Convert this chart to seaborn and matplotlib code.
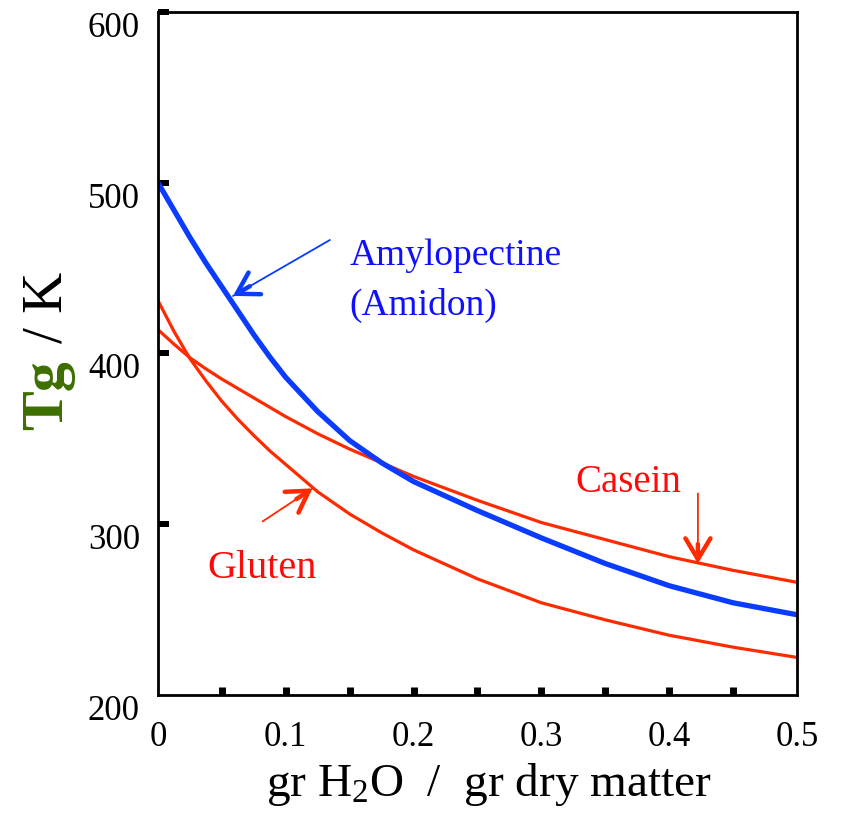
import matplotlib
matplotlib.use("Agg")
import matplotlib.pyplot as plt
import pandas as pd
import seaborn as sns

# ---------- DATA ----------
water = [0, 0.0125, 0.025, 0.0375, 0.05, 0.0625, 0.075, 0.0875, 0.1, 0.125,
         0.15, 0.175, 0.2, 0.25, 0.3, 0.35, 0.4, 0.45, 0.5]
tg_amylopectine = [500, 484, 468, 453, 439, 425, 411, 398, 386, 366,
                   349, 336, 325, 308, 292, 277, 264, 254, 247]
tg_casein = [414, 405.5, 397.5, 391, 385, 379.5, 374, 368.5, 363, 353,
             344, 336, 328, 314, 301, 291, 281, 273, 266]
tg_gluten = [431, 413, 397, 384, 372, 361.5, 352, 343, 335, 319,
             306, 295, 285, 268, 254, 244, 235, 228, 222]

x_major = [0, 0.1, 0.2, 0.3, 0.4, 0.5]
x_minor = [0.05, 0.15, 0.25, 0.35, 0.45]
x_labels = ["0", "0.1", "0.2", "0.3", "0.4", "0.5"]
y_major = [200, 300, 400, 500, 600]
y_labels = ["200", "300", "400", "500", "600"]

# ---------- STYLE ----------
sns.set_style("white")
plt.rcParams["font.family"] = ["Liberation Serif", "DejaVu Serif"]
plt.rcParams["mathtext.fontset"] = "custom"
plt.rcParams["mathtext.rm"] = "Liberation Serif"
plt.rcParams["mathtext.it"] = "Liberation Serif:italic"
plt.rcParams["text.color"] = "black"
plt.rcParams["axes.labelcolor"] = "black"
plt.rcParams["xtick.color"] = "black"
plt.rcParams["ytick.color"] = "black"

BLUE_LINE = "#0a3cff"
RED_LINE = "#ff2a00"
BLUE_TXT = "#1010ff"
RED_TXT = "#ff0a0a"
GREEN = "#3d6e00"

df = pd.DataFrame({"water": water,
                   "Amylopectine": tg_amylopectine,
                   "Casein": tg_casein,
                   "Gluten": tg_gluten})

fig = plt.figure(figsize=(8.42, 8.16), dpi=100)
ax = fig.add_axes([0.1876, 0.1483, 0.7589, 0.8370])

sns.lineplot(data=df, x="water", y="Casein", color=RED_LINE, lw=2.3, ax=ax)
sns.lineplot(data=df, x="water", y="Gluten", color=RED_LINE, lw=2.3, ax=ax)
sns.lineplot(data=df, x="water", y="Amylopectine", color=BLUE_LINE, lw=3.8, ax=ax)

ax.set_xlim(0, 0.5)
ax.set_ylim(200, 600)
ax.set_xticks(x_major)
ax.set_xticks(x_minor, minor=True)
ax.set_xticklabels(x_labels)
ax.set_yticks(y_major)
ax.set_yticklabels(y_labels)

ax.tick_params(axis="x", which="both", direction="in", length=6, width=5,
               bottom=True, top=False, color="black", labelcolor="black",
               labelsize=25, pad=19)
ax.tick_params(axis="y", which="both", direction="in", length=8, width=4.3,
               left=True, right=False, color="black", labelcolor="black",
               labelsize=25, pad=13)
plt.setp(ax.get_yticklabels(), va="top")

# no tick marks in the corners (0 / 0.5 on x, 200 on y)
xt = ax.xaxis.get_major_ticks()
xt[0].tick1line.set_visible(False)
xt[-1].tick1line.set_visible(False)
ax.yaxis.get_major_ticks()[0].tick1line.set_visible(False)

for sp in ax.spines.values():
    sp.set_linewidth(2)
    sp.set_color("black")

ax.set_ylabel("")
ax.set_xlabel("gr H$_2$O  /  gr dry matter", fontsize=34, color="black")
ax.xaxis.set_label_coords(0.518, -0.097)

# y label: green bold "Tg" + black "/ K"
fig.text(62 / 842, 1 - 430 / 816, "Tg", rotation=90, rotation_mode="anchor",
         ha="left", va="baseline", fontsize=43, fontweight="bold", color=GREEN)
fig.text(62 / 842, 1 - 343 / 816, "/ K", rotation=90, rotation_mode="anchor",
         ha="left", va="baseline", fontsize=41, color="black")

# ---------- ANNOTATIONS ----------
ax.text(0.150, 451.8, "Amylopectine", color=BLUE_TXT, fontsize=27, va="baseline")
ax.text(0.150, 422.5, "(Amidon)", color=BLUE_TXT, fontsize=27, va="baseline")
ax.text(0.3263, 318.9, "Casein", color=RED_TXT, fontsize=28, va="baseline")
ax.text(0.0383, 268.5, "Gluten", color=RED_TXT, fontsize=29, va="baseline")


def arrow(tip, tail_off, color, head_dir):
    # thin shaft
    ax.annotate("", xy=tip, xytext=tail_off, textcoords="offset points",
                arrowprops=dict(arrowstyle="-", color=color, lw=1.3,
                                shrinkA=0, shrinkB=0))
    # thick open head
    hx, hy = head_dir
    ax.annotate("", xy=tip, xytext=(hx * 14, hy * 14), textcoords="offset points",
                arrowprops=dict(arrowstyle="->,head_length=0.75,head_width=0.45",
                                mutation_scale=20, color=color, lw=3.2,
                                shrinkA=0, shrinkB=0, capstyle="round",
                                joinstyle="round"))


arrow((0.0587, 433.7), (69.8, 40.3), BLUE_LINE, (0.866, 0.5))
arrow((0.4225, 277.0), (0, 50.4), RED_LINE, (0, 1))
arrow((0.121, 321.0), (-36, -23.8), RED_LINE, (-0.834, -0.551))

fig.savefig("out.png", dpi=100)
